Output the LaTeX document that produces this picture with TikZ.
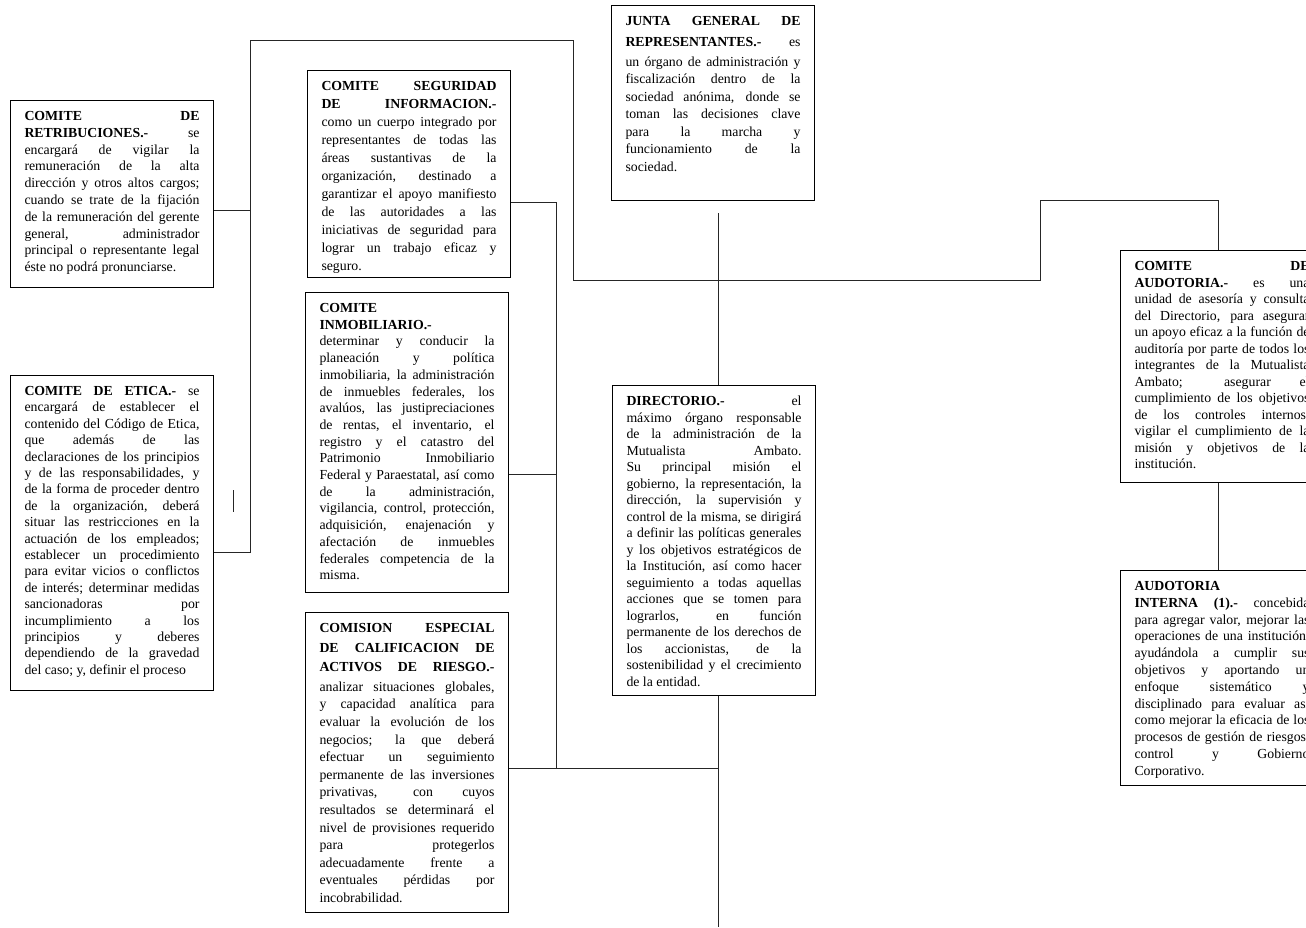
\documentclass[tikz,border=0pt]{standalone}
\usepackage{fontspec}
\setmainfont{Liberation Serif}
\usetikzlibrary{calc}

% cuerpo de texto con interlineado propio de cada cuadro
\newcommand{\letra}[1]{\fontsize{13.8pt}{#1}\selectfont\tolerance=10000\hyphenpenalty=10000}
% fin de renglon justificado (con espacio extra opcional)
\newcommand{\corte}[1][0pt]{\unskip\vadjust{\vskip#1}\break}

\tikzset{
  cuadro/.style={draw, line width=1pt, anchor=north west, align=justify,
    text width=175pt, inner xsep=14pt, inner ysep=6pt, text height=14pt},
  enlace/.style={draw=black!85, line width=1pt}
}

\begin{document}
\begin{tikzpicture}[x=1pt, y=-1pt]
\useasboundingbox (0,0) rectangle (1306,927);
\clip (0,0) rectangle (1306,927);

% comites de la izquierda
\node[cuadro, text depth=161pt, font={\letra{16.8pt}}] (retrib) at (10,100) {%
\textbf{COMITE DE}\corte
\textbf{RETRIBUCIONES.-} se\corte
encargará de vigilar la\corte
remuneración de la alta\corte
dirección y otros altos cargos;\corte
cuando se trate de la fijación\corte
de la remuneración del gerente\corte
general, administrador\corte
principal o representante legal\corte
éste no podrá pronunciarse.};

\node[cuadro, text depth=289pt, font={\letra{16.4pt}}] (etica) at (10,375) {%
\textbf{COMITE DE ETICA.-} se\corte
encargará de establecer el\corte
contenido del Código de Etica,\corte
que además de las\corte
declaraciones de los principios\corte
y de las responsabilidades, y\corte
de la forma de proceder dentro\corte
de la organización, deberá\corte
situar las restricciones en la\corte
actuación de los empleados;\corte
establecer un procedimiento\corte
para evitar vicios o conflictos\corte
de interés; determinar medidas\corte
sancionadoras por\corte
incumplimiento a los\corte
principios y deberes\corte
dependiendo de la gravedad\corte
del caso; y, definir el proceso};

% columna central de comites
\node[cuadro, text depth=181pt, font={\letra{18pt}}] (segur) at (307,70) {%
\textbf{COMITE SEGURIDAD}\corte
\textbf{DE INFORMACION.-}\corte
como un cuerpo integrado por\corte
representantes de todas las\corte
áreas sustantivas de la\corte
organización, destinado a\corte
garantizar el apoyo manifiesto\corte
de las autoridades a las\corte
iniciativas de seguridad para\corte
lograr un trabajo eficaz y\corte
seguro.};

\node[cuadro, text depth=274pt, font={\letra{16.7pt}}] (inmob) at (305,292) {%
\textbf{COMITE}\corte
\textbf{INMOBILIARIO.-}\corte
determinar y conducir la\corte
planeación y política\corte
inmobiliaria, la administración\corte
de inmuebles federales, los\corte
avalúos, las justipreciaciones\corte
de rentas, el inventario, el\corte
registro y el catastro del\corte
Patrimonio Inmobiliario\corte
Federal y Paraestatal, así como\corte
de la administración,\corte
vigilancia, control, protección,\corte
adquisición, enajenación y\corte
afectación de inmuebles\corte
federales competencia de la\corte
misma.};

\node[cuadro, text depth=274pt, font={\letra{17.6pt}}] (comision) at (305,612) {%
\textbf{COMISION ESPECIAL}\corte[2pt]
\textbf{DE CALIFICACION DE}\corte[2pt]
\textbf{ACTIVOS DE RIESGO.-}\corte[2pt]
analizar situaciones globales,\corte
y capacidad analítica para\corte
evaluar la evolución de los\corte
negocios; la que deberá\corte
efectuar un seguimiento\corte
permanente de las inversiones\corte
privativas, con cuyos\corte
resultados se determinará el\corte
nivel de provisiones requerido\corte
para protegerlos\corte
adecuadamente frente a\corte
eventuales pérdidas por\corte
incobrabilidad.};

% organos de gobierno
\node[cuadro, text depth=169pt, font={\letra{17.5pt}}] (junta) at (611,5) {%
\textbf{JUNTA GENERAL DE}\corte[3.5pt]
\textbf{REPRESENTANTES.-} es\corte[2pt]
un órgano de administración y\corte
fiscalización dentro de la\corte
sociedad anónima, donde se\corte
toman las decisiones clave\corte
para la marcha y\corte
funcionamiento de la\corte
sociedad.};

\node[cuadro, text depth=284pt, font={\letra{16.5pt}}] (direct) at (612,385) {%
\textbf{DIRECTORIO.-} el\corte
máximo órgano responsable\corte
de la administración de la\corte
Mutualista Ambato.\corte
Su principal misión el\corte
gobierno, la representación, la\corte
dirección, la supervisión y\corte
control de la misma, se dirigirá\corte
a definir las políticas generales\corte
y los objetivos estratégicos de\corte
la Institución, así como hacer\corte
seguimiento a todas aquellas\corte
acciones que se tomen para\corte
lograrlos, en función\corte
permanente de los derechos de\corte
los accionistas, de la\corte
sostenibilidad y el crecimiento\corte
de la entidad.};

% auditoria, a la derecha
\node[cuadro, text depth=206pt, font={\letra{16.5pt}}] (audit) at (1120,250) {%
\textbf{COMITE DE}\corte
\textbf{AUDOTORIA.-} es una\corte
unidad de asesoría y consulta\corte
del Directorio, para asegurar\corte
un apoyo eficaz a la función de\corte
auditoría por parte de todos los\corte
integrantes de la Mutualista\corte
Ambato; asegurar el\corte
cumplimiento de los objetivos\corte
de los controles internos,\corte
vigilar el cumplimiento de la\corte
misión y objetivos de la\corte
institución.};

\node[cuadro, text depth=189pt, font={\letra{16.8pt}}] (interna) at (1120,570) {%
\textbf{AUDOTORIA}\corte
\textbf{INTERNA (1).-} concebida\corte
para agregar valor, mejorar las\corte
operaciones de una institución,\corte
ayudándola a cumplir sus\corte
objetivos y aportando un\corte
enfoque sistemático y\corte
disciplinado para evaluar así\corte
como mejorar la eficacia de los\corte
procesos de gestión de riesgos,\corte
control y Gobierno\corte
Corporativo.};

% puntos de quiebre de las lineas
\coordinate (rr) at (250,210);
\coordinate (re) at (250,552);
\coordinate (izq) at (250,40);
\coordinate (cen) at (573,280);
\coordinate (der) at (1040,200);
\coordinate (aud) at (1218,200);
\coordinate (sq) at (556,202);
\coordinate (si) at (556,474);
\coordinate (sc) at (556,768);
\coordinate (jt) at (718,213);
\coordinate (fin) at (718,927);

\draw[enlace] (etica.east |- re) -| (izq) -| (cen) -| (der) -- (aud) -- (aud |- audit.north);
\draw[enlace] (retrib.east |- rr) -- (rr);
\draw[enlace] (233,490) -- (233,512);
\draw[enlace] (segur.east |- sq) -- (sq) -- (sc) -- (sc -| fin);
\draw[enlace] (inmob.east |- si) -- (si);
\draw[enlace] (comision.east |- sc) -- (sc);
\draw[enlace] (jt) -- (jt |- direct.north);
\draw[enlace] (direct.south -| fin) -- (fin);
\draw[enlace] (audit.south -| aud) -- (aud |- interna.north);
\end{tikzpicture}
\end{document}
